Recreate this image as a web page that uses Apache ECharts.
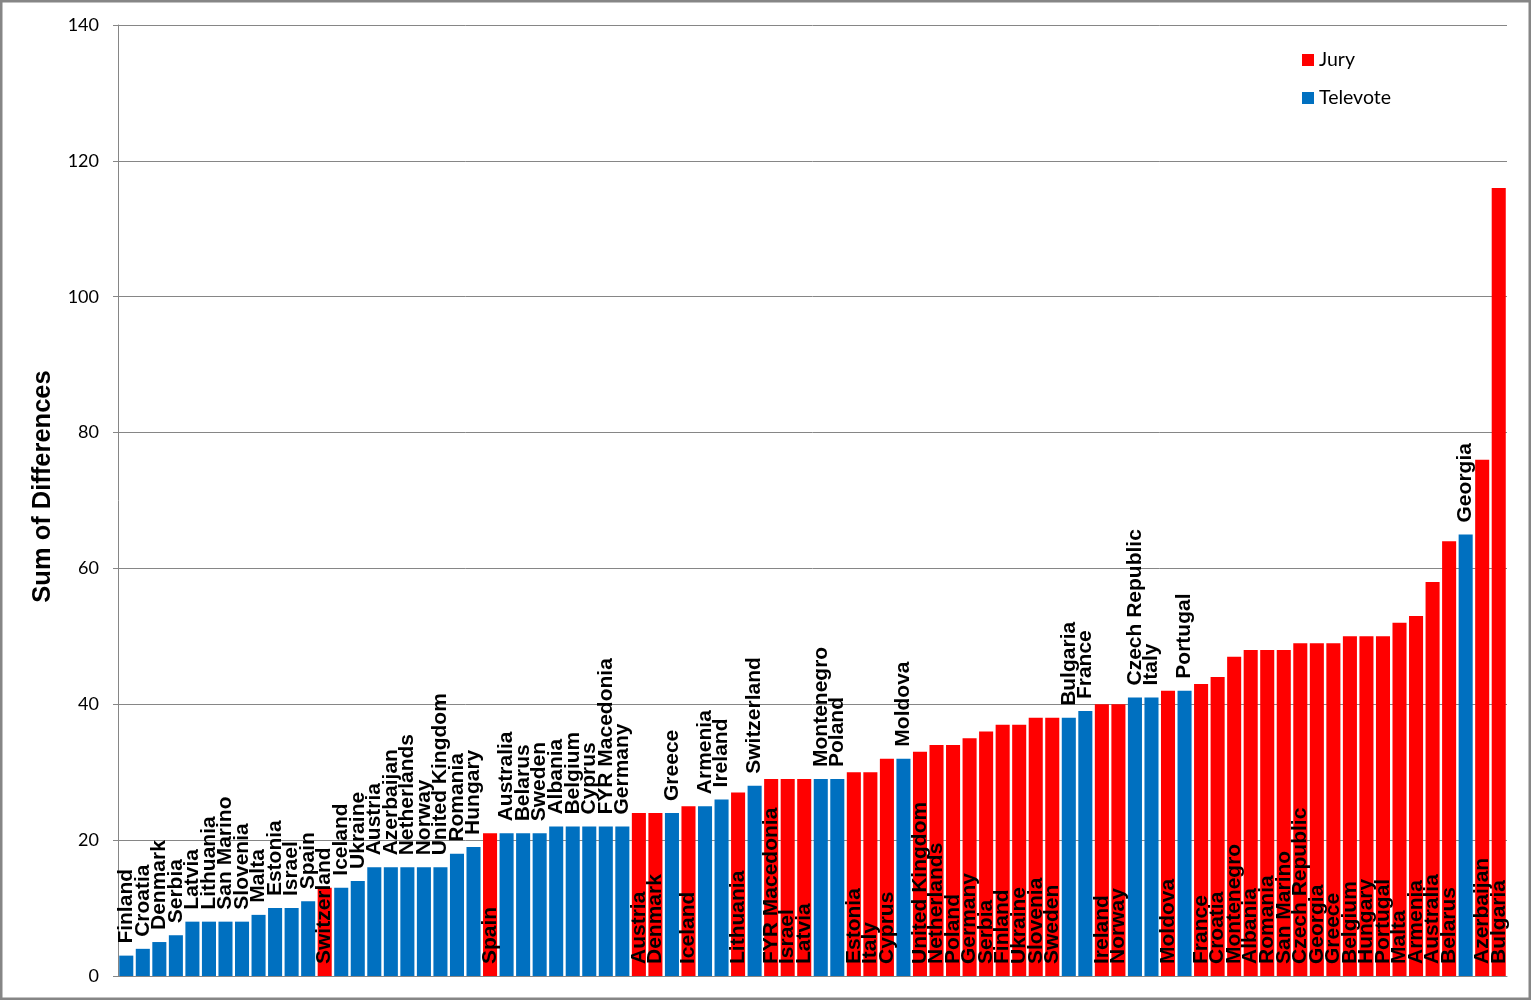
<!DOCTYPE html>
<html>
<head>
<meta charset="utf-8">
<script src="https://cdn.jsdelivr.net/npm/echarts@6/dist/echarts.min.js"></script>
<style>
html,body{margin:0;padding:0;background:#fff;}
#chart{width:1532px;height:1001px;}
</style>
</head>
<body>
<div id="chart"></div>
<script>
// Country label for each bar, in order
const countries = [
  'Finland','Croatia','Denmark','Serbia','Latvia','Lithuania','San Marino','Slovenia','Malta','Estonia',
  'Israel','Spain','Switzerland','Iceland','Ukraine','Austria','Azerbaijan','Netherlands','Norway','United Kingdom',
  'Romania','Hungary','Spain','Australia','Belarus','Sweden','Albania','Belgium','Cyprus','FYR Macedonia',
  'Germany','Austria','Denmark','Greece','Iceland','Armenia','Ireland','Lithuania','Switzerland','FYR Macedonia',
  'Israel','Latvia','Montenegro','Poland','Estonia','Italy','Cyprus','Moldova','United Kingdom','Netherlands',
  'Poland','Germany','Serbia','Finland','Ukraine','Slovenia','Sweden','Bulgaria','France','Ireland',
  'Norway','Czech Republic','Italy','Moldova','Portugal','France','Croatia','Montenegro','Albania','Romania',
  'San Marino','Czech Republic','Georgia','Greece','Belgium','Hungary','Portugal','Malta','Armenia','Australia',
  'Belarus','Georgia','Azerbaijan','Bulgaria'
];
// Source of each bar: J = Jury, T = Televote
const sources = [
  'T','T','T','T','T','T','T','T','T','T',
  'T','T','J','T','T','T','T','T','T','T',
  'T','T','J','T','T','T','T','T','T','T',
  'T','J','J','T','J','T','T','J','T','J',
  'J','J','T','T','J','J','J','T','J','J',
  'J','J','J','J','J','J','J','T','T','J',
  'J','T','T','J','T','J','J','J','J','J',
  'J','J','J','J','J','J','J','J','J','J',
  'J','T','J','J'
];
// Sum of differences for each bar
const sums = [
  3,4,5,6,8,8,8,8,9,10,
  10,11,13,13,14,16,16,16,16,16,
  18,19,21,21,21,21,22,22,22,22,
  22,24,24,24,25,25,26,27,28,29,
  29,29,29,29,30,30,32,32,33,34,
  34,35,36,37,37,38,38,38,39,40,
  40,41,41,42,42,43,44,47,48,48,
  48,49,49,49,50,50,50,52,53,58,
  64,65,76,116
];
const yTicks = [0,20,40,60,80,100,120,140];

const slots = countries.map((c, i) => String(i + 1));
const juryData = sums.map((v, i) => sources[i] === 'J' ? v : null);
const teleData = sums.map((v, i) => sources[i] === 'T' ? v : null);

const labelFont = {
  fontFamily: '"Liberation Sans", Arial, sans-serif',
  fontWeight: 'bold',
  fontSize: 21,
  color: '#000'
};

const chart = echarts.init(document.getElementById('chart'), null, {renderer: 'canvas'});
chart.setOption({
  animation: false,
  backgroundColor: '#fff',
  graphic: [{
    type: 'rect',
    shape: {x: 1.25, y: 1.25, width: 1528.5, height: 997.5},
    style: {fill: 'none', stroke: '#868686', lineWidth: 2.5},
    silent: true,
    z: -1
  }],
  legend: {
    orient: 'vertical',
    left: 1302,
    top: 50,
    padding: 0,
    itemWidth: 12,
    itemHeight: 12,
    itemGap: 18,
    icon: 'rect',
    textStyle: {fontFamily: 'Lato, sans-serif', fontSize: 19.5, color: '#000'},
    data: ['Jury', 'Televote']
  },
  grid: {left: 118, right: 25, top: 25, bottom: 25},
  xAxis: {
    type: 'category',
    data: slots,
    axisLine: {show: true, lineStyle: {color: '#868686', width: 1}},
    axisTick: {show: false},
    axisLabel: {show: false},
    splitLine: {show: false}
  },
  yAxis: {
    type: 'value',
    min: yTicks[0],
    max: yTicks[yTicks.length - 1],
    interval: 20,
    name: 'Sum of Differences',
    nameLocation: 'middle',
    nameGap: 62,
    nameTextStyle: {
      fontFamily: '"Liberation Sans", Arial, sans-serif',
      fontWeight: 'bold',
      fontSize: 25.5,
      color: '#000',
      padding: [0, 0, 0, 28]
    },
    axisLine: {show: true, lineStyle: {color: '#868686', width: 1}},
    axisTick: {show: true, inside: false, length: 5, lineStyle: {color: '#868686'}},
    axisLabel: {fontFamily: 'Lato, sans-serif', fontSize: 18, color: '#000', margin: 19},
    splitLine: {show: true, lineStyle: {color: '#868686', width: 1}}
  },
  series: [
    {
      name: 'Jury',
      type: 'bar',
      data: juryData,
      barGap: '-100%',
      barCategoryGap: '15%',
      itemStyle: {color: '#FF0000'},
      label: Object.assign({
        show: true,
        position: 'insideBottom',
        distance: 12,
        rotate: 90,
        align: 'left',
        verticalAlign: 'middle',
        formatter: p => countries[p.dataIndex]
      }, labelFont)
    },
    {
      name: 'Televote',
      type: 'bar',
      data: teleData,
      barGap: '-100%',
      barCategoryGap: '15%',
      itemStyle: {color: '#0070C0'},
      label: Object.assign({
        show: true,
        position: 'top',
        distance: 12,
        rotate: 90,
        align: 'left',
        verticalAlign: 'middle',
        formatter: p => countries[p.dataIndex]
      }, labelFont)
    }
  ]
});
</script>
</body>
</html>
